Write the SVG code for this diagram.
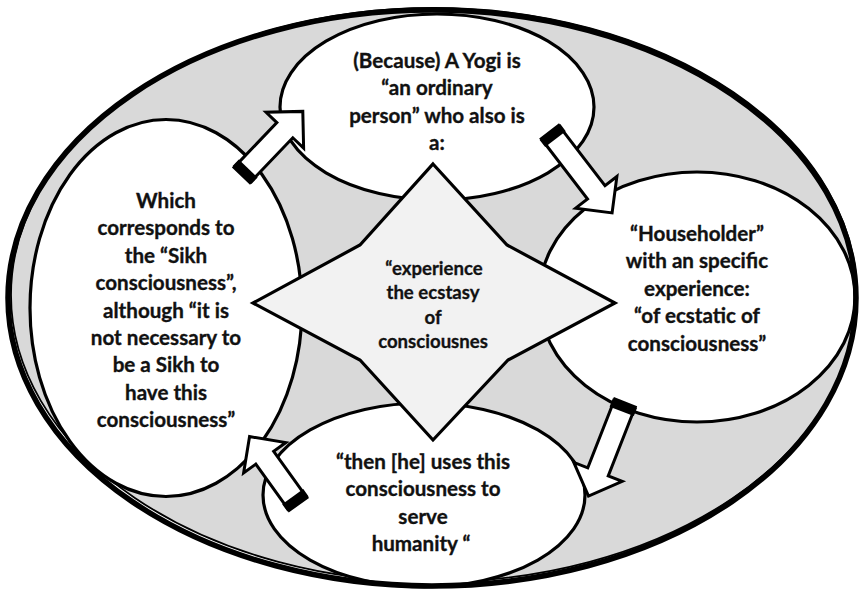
<svg xmlns="http://www.w3.org/2000/svg" width="863" height="591" viewBox="0 0 863 591">
<style>
.node{fill:#fff;stroke:#000;stroke-width:3.2}
.t{font-family:Lato,"Liberation Sans",sans-serif;font-weight:bold;font-size:20.6px;fill:#111;stroke:#111;stroke-width:0.35;text-anchor:middle}
.ts{font-family:Lato,"Liberation Sans",sans-serif;font-weight:bold;font-size:18.6px;fill:#111;stroke:#111;stroke-width:0.3;text-anchor:middle}
.arr{fill:#fff;stroke:#000;stroke-width:3;stroke-linejoin:miter}
</style>
<defs>
<g id="band"><rect x="0" y="-13" width="9" height="26" fill="#000"/></g>
</defs>
<rect width="863" height="591" fill="#fff"/>
<g id="ring">
<ellipse cx="434" cy="295" rx="423" ry="287" fill="#d9d9d9" stroke="#000" stroke-width="1.8"/>
</g>
<g id="node-top">
<ellipse class="node" cx="437" cy="107" rx="157" ry="93"/>
<text class="t" x="437" y="68">(Because) A Yogi is</text>
<text class="t" x="437" y="95.4">“an ordinary</text>
<text class="t" x="437" y="122.8">person” who also is</text>
<text class="t" x="437" y="150.2">a:</text>
</g>
<g id="node-right">
<ellipse class="node" cx="697" cy="297" rx="158" ry="125"/>
<text class="t" x="697" y="241">“Householder”</text>
<text class="t" x="697" y="268.4">with an specific</text>
<text class="t" x="697" y="295.8">experience:</text>
<text class="t" x="697" y="323.2">“of ecstatic of</text>
<text class="t" x="697" y="350.6">consciousness”</text>
</g>
<g id="node-bottom">
<ellipse class="node" cx="424" cy="495" rx="161" ry="92"/>
<text class="t" x="423" y="469">“then [he] uses this</text>
<text class="t" x="423" y="496.4">consciousness to</text>
<text class="t" x="423" y="523.8">serve</text>
<text class="t" x="421" y="551.2">humanity “</text>
</g>
<g id="node-left">
<ellipse class="node" cx="166" cy="308" rx="136" ry="188.5"/>
<text class="t" x="166" y="208">Which</text>
<text class="t" x="166" y="235.4">corresponds to</text>
<text class="t" x="166" y="262.8">the “Sikh</text>
<text class="t" x="166" y="290.2">consciousness”,</text>
<text class="t" x="166" y="317.6">although “it is</text>
<text class="t" x="166" y="345">not necessary to</text>
<text class="t" x="166" y="372.4">be a Sikh to</text>
<text class="t" x="166" y="399.8">have this</text>
<text class="t" x="166" y="427.2">consciousness”</text>
</g>
<g id="node-center">
<polygon points="433,164 507,245 615,303 508,360 433,440 360,360 253,303 360,245" fill="#f2f2f2" stroke="#000" stroke-width="3.2" stroke-linejoin="miter"/>
<text class="ts" x="434" y="275">“experience</text>
<text class="ts" x="433" y="299.4">the ecstasy</text>
<text class="ts" x="433" y="323.8">of</text>
<text class="ts" x="433" y="348.2">consciousnes</text>
</g>
<g id="connectors">
<g transform="translate(242,175) rotate(-46.3)">
<path class="arr" d="M0,-11 L62,-11 L62,-26 L88,0 L62,26 L62,11 L0,11 Z"/>
<use href="#band"/>
</g>
<g transform="translate(550,132) rotate(52.5)">
<path class="arr" d="M0,-11 L76,-11 L76,-26 L102,0 L76,26 L76,11 L0,11 Z"/>
<use href="#band"/>
</g>
<g transform="translate(625,403) rotate(111.4)">
<path class="arr" d="M0,-11 L74,-11 L74,-26 L100,0 L74,26 L74,11 L0,11 Z"/>
<use href="#band"/>
</g>
<g transform="translate(298,504) rotate(-125.7)">
<path class="arr" d="M0,-11 L57,-11 L57,-26 L83,0 L57,26 L57,11 L0,11 Z"/>
<use href="#band"/>
</g>
</g>
<g id="outer">
<ellipse cx="432" cy="298" rx="424" ry="288" fill="none" stroke="#000" stroke-width="5.5"/>
</g>
</svg>
